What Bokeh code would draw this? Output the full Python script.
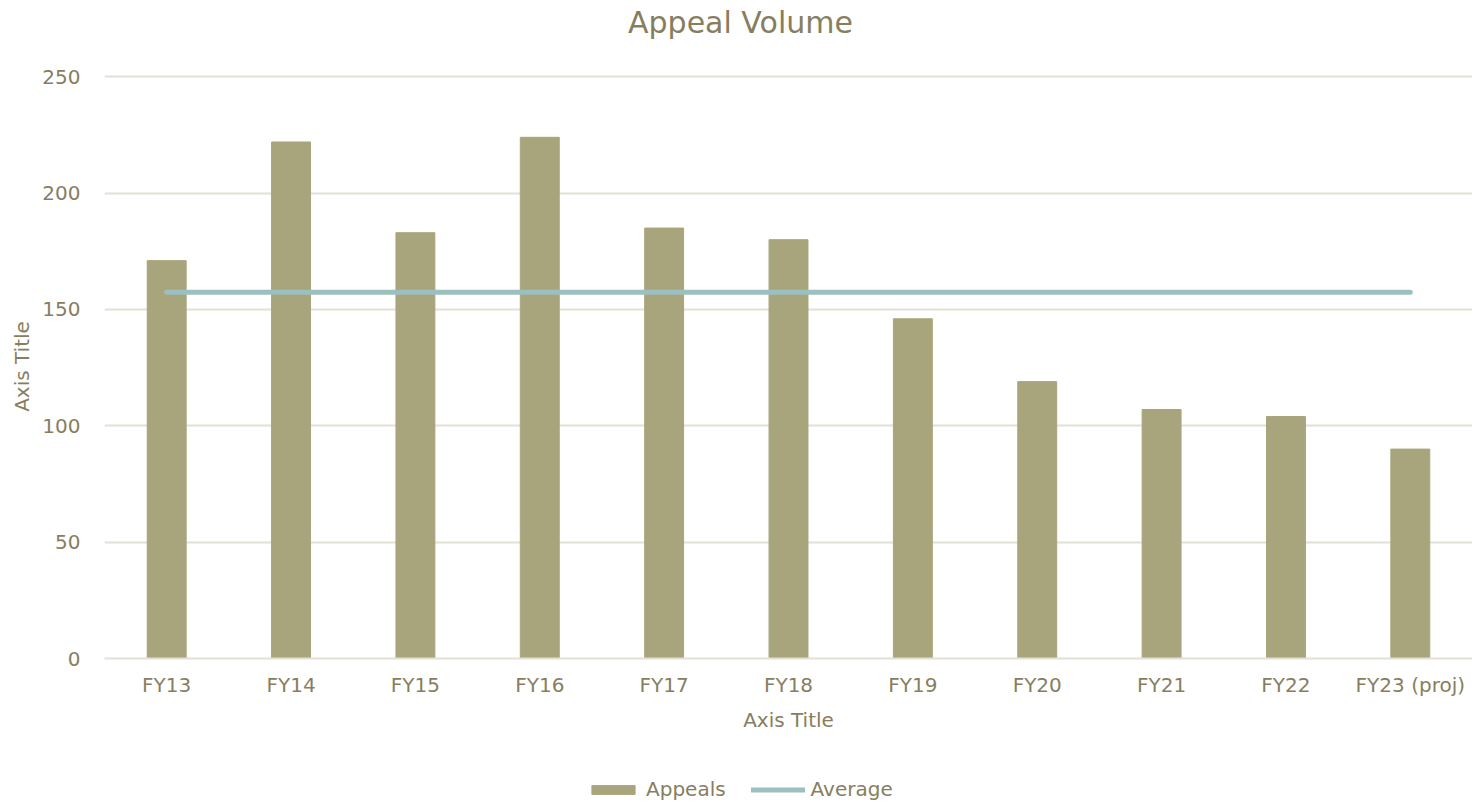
from bokeh.plotting import figure
from bokeh.layouts import column
from bokeh.models import Legend, LegendItem, FactorRange, Range1d, SingleIntervalTicker
from bokeh.core.properties import value
from bokeh.embed import file_html
from bokeh.resources import INLINE

categories = ["FY13", "FY14", "FY15", "FY16", "FY17", "FY18", "FY19", "FY20", "FY21", "FY22", "FY23 (proj)"]
appeals = [171, 222, 183, 224, 185, 180, 146, 119, 107, 104, 90]
average = [157.4] * len(categories)
title_text = "Appeal Volume"
axis_title = "Axis Title"

TEXT = "#877E60"
BAR = "#A8A57C"
AVG = "#9BC0BF"
GRID = "#E3E0D6"
FONT = "DejaVu Sans"
W = 1472
LEFT = 104

# header strip with the chart title (frames of a column are aligned with the chart's frame)
H0 = 44
p0 = figure(x_range=Range1d(LEFT, W), y_range=Range1d(0, H0), width=W, height=H0,
            output_backend="svg", toolbar_location=None,
            x_axis_location=None, y_axis_location=None,
            min_border_left=0, min_border_right=0, min_border_top=0, min_border_bottom=0)
p0.grid.visible = False
p0.outline_line_color = None
p0.text(x=[740], y=[H0 - 22], text=[title_text], text_font=value(FONT),
        text_font_size="30px", text_color=TEXT, text_align="center", text_baseline="middle")

p = figure(x_range=FactorRange(*categories, range_padding=0), y_range=Range1d(0, 251),
           output_backend="svg", toolbar_location=None,
           width=W, height=738 - H0,
           min_border_left=LEFT, min_border_top=30, min_border_right=0, min_border_bottom=80)
p.outline_line_color = None

bars = p.vbar(x=categories, top=appeals, width=0.313, color=BAR)
ln = p.line(x=categories, y=average, line_width=5, color=AVG, line_cap="round")

p.yaxis.ticker = SingleIntervalTicker(interval=50)
p.yaxis.axis_line_color = None
p.yaxis.major_tick_line_color = None
p.yaxis.minor_tick_line_color = None
p.yaxis.major_label_text_font = FONT
p.yaxis.major_label_text_font_size = "20px"
p.yaxis.major_label_text_color = TEXT
p.yaxis.major_label_standoff = 18
p.yaxis.axis_label = axis_title
p.yaxis.axis_label_text_font = FONT
p.yaxis.axis_label_text_font_style = "normal"
p.yaxis.axis_label_text_font_size = "20px"
p.yaxis.axis_label_text_color = TEXT
p.yaxis.axis_label_standoff = 5

p.xaxis.axis_line_color = GRID
p.xaxis.axis_line_width = 2
p.xaxis.major_tick_line_color = None
p.xaxis.minor_tick_line_color = None
p.xaxis.major_label_text_font = FONT
p.xaxis.major_label_text_font_size = "20px"
p.xaxis.major_label_text_color = TEXT
p.xaxis.major_label_standoff = 8
p.xaxis.axis_label = axis_title
p.xaxis.axis_label_text_font = FONT
p.xaxis.axis_label_text_font_style = "normal"
p.xaxis.axis_label_text_font_size = "20px"
p.xaxis.axis_label_text_color = TEXT
p.xaxis.axis_label_standoff = 8

p.xgrid.grid_line_color = None
p.ygrid.grid_line_color = GRID
p.ygrid.grid_line_width = 2

# legend strip below the chart
p2 = figure(x_range=Range1d(0, 1), y_range=Range1d(0, 1), width=W, height=63,
            output_backend="svg", toolbar_location=None,
            x_axis_location=None, y_axis_location=None,
            min_border_left=0, min_border_right=0, min_border_top=0, min_border_bottom=0)
p2.grid.visible = False
p2.outline_line_color = None
lb = p2.vbar(x=[5], top=[1], width=0.3, color=BAR)
ll = p2.line(x=[5, 6], y=[0.5, 0.5], line_width=5, color=AVG, line_cap="round")

legend = Legend(items=[LegendItem(label="Appeals", renderers=[lb]),
                       LegendItem(label="Average", renderers=[ll])],
                orientation="horizontal", location=(482, 0))
legend.label_text_font = FONT
legend.label_text_font_size = "20px"
legend.label_text_color = TEXT
legend.border_line_color = None
legend.background_fill_alpha = 0
legend.glyph_width = 54
legend.glyph_height = 11
legend.label_height = 20
legend.spacing = 25
legend.label_standoff = 6
legend.margin = 0
legend.padding = 0
p2.add_layout(legend, "center")

layout = column(p0, p, p2)
open("out.html", "w").write(file_html(layout, INLINE))
